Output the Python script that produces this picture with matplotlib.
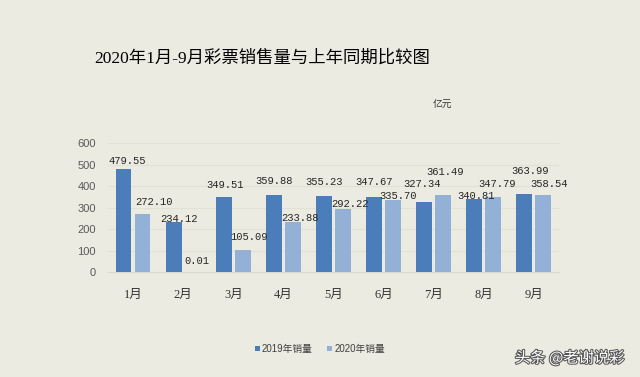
import numpy as np
import matplotlib.pyplot as plt
import matplotlib.patheffects as pe

# Daten
months = ['1月', '2月', '3月', '4月', '5月', '6月', '7月', '8月', '9月']
sales_2019 = [479.55, 234.12, 349.51, 359.88, 355.23, 347.67, 327.34, 340.81, 363.99]
sales_2020 = [272.10, 0.01, 105.09, 233.88, 292.22, 335.70, 361.49, 347.79, 358.54]
yticks = [0, 100, 200, 300, 400, 500, 600]

# Lage der Beschriftungen (wie im Original verschoben)
lab_y_2019 = [518, 248, 406, 425, 419, 419, 409, 355, 472]
lab_y_2020 = [328, 53, 166, 254, 318, 355, 465, 409, 409]
lab_dx_2019 = [0.08, 0.10, 0.02, 0.01, 0.01, 0.0, -0.03, 0.03, 0.12]
lab_dx_2020 = [0.23, 0.09, 0.12, 0.15, 0.14, 0.10, 0.03, 0.07, 0.11]

bg = '#ecebe1'
c19 = '#4a7dba'
c20 = '#93b1d6'
cjk = ['Liberation Serif', 'Noto Sans CJK SC']
mono = ['Liberation Mono', 'DejaVu Sans Mono']

fig = plt.figure(figsize=(6.4, 3.77), dpi=100, facecolor=bg)
ax = fig.add_axes([0.169, 0.278, 0.704, 0.342], facecolor=bg)

x = np.arange(len(months))
w = 0.31
ax.bar(x - 0.19, sales_2019, w, color=c19, label='2019年销量', zorder=3)
ax.bar(x + 0.19, sales_2020, w, color=c20, label='2020年销量', zorder=3)

for i in range(len(months)):
    ax.text(x[i] - 0.19 + lab_dx_2019[i], lab_y_2019[i], '%.2f' % sales_2019[i],
            ha='center', va='center', fontsize=7.6, family=mono, color='#262626', zorder=4)
    ax.text(x[i] + 0.19 + lab_dx_2020[i], lab_y_2020[i], '%.2f' % sales_2020[i],
            ha='center', va='center', fontsize=7.6, family=mono, color='#262626', zorder=4)

ax.set_xlim(-0.5, 8.5)
ax.set_ylim(0, 600)
ax.set_yticks(yticks)
ax.set_xticks(x)
ax.set_xticklabels(months, family=cjk, fontsize=9, color='#333333')
ax.tick_params(axis='x', length=0, pad=12)
ax.tick_params(axis='y', length=0, pad=9, labelsize=8, labelcolor='#595959')
for lab in ax.get_yticklabels():
    lab.set_family(['Liberation Sans', 'DejaVu Sans'])
ax.grid(axis='y', color='#e1e1d6', linewidth=0.8, zorder=0)
for s in ['top', 'right', 'left']:
    ax.spines[s].set_visible(False)
ax.spines['bottom'].set_color('#d9d9d0')

fig.text(0.41, 0.846, '2020年1月-9月彩票销售量与上年同期比较图', ha='center', va='center',
         fontsize=12.5, family=cjk, color='#000000')
fig.text(0.692, 0.722, '亿元', ha='center', va='center', fontsize=7, family=cjk, color='#333333')

leg = fig.legend(loc='center', bbox_to_anchor=(0.5, 0.074), ncol=2, frameon=False,
                 prop={'family': ['Liberation Sans', 'Noto Sans CJK SC'], 'size': 7},
                 handlelength=0.5, handleheight=0.5, handletextpad=0.2, columnspacing=1.5)
for t in leg.get_texts():
    t.set_color('#404040')

fig.text(0.89, 0.05, '头条 @老谢说彩', ha='center', va='center', fontsize=11,
         family=['Noto Sans CJK SC'], color='white',
         path_effects=[pe.withStroke(linewidth=1.5, foreground='#555555')])

fig.savefig('out.png', dpi=100, facecolor=bg)
